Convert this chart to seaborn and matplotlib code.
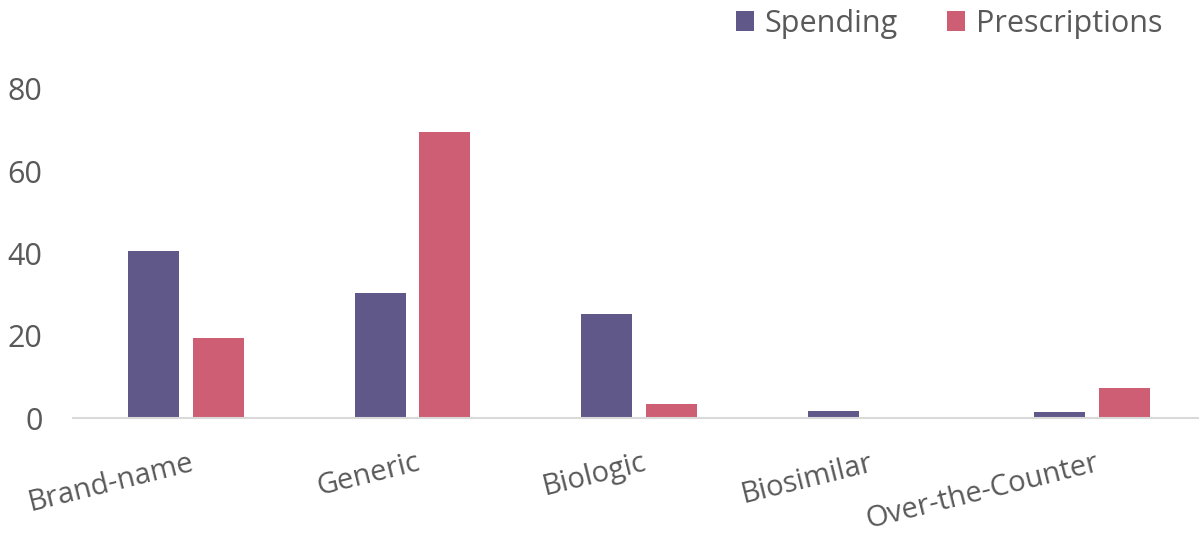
import matplotlib
matplotlib.use("Agg")
import matplotlib.pyplot as plt
import seaborn as sns
import pandas as pd
from matplotlib.patches import Patch

categories = ["Brand-name", "Generic", "Biologic", "Biosimilar", "Over-the-Counter"]
spending = [40.6, 30.5, 25.4, 1.8, 1.5]
prescriptions = [19.5, 69.6, 3.3, 0.0, 7.3]
series = ["Spending", "Prescriptions"]
colors = ["#5F5888", "#CE5E74"]
yticks = [0, 20, 40, 60, 80]

df = pd.DataFrame({
    "category": categories * 2,
    "value": spending + prescriptions,
    "series": [series[0]] * len(categories) + [series[1]] * len(categories),
})

sns.set_theme(style="white")
plt.rcParams["font.family"] = ["Open Sans", "DejaVu Sans"]

fig = plt.figure(figsize=(11.99, 5.33), dpi=100)
ax = fig.add_axes([73 / 1199, 1 - 418 / 533, (1205 - 73) / 1199, (418 - 89) / 533])

sns.barplot(data=df, x="category", y="value", hue="series", hue_order=series,
            palette=colors, saturation=1, width=0.57, gap=0.21, linewidth=0, ax=ax,
            legend=False, order=categories)

ax.set_ylim(0, 80)
ax.set_xlim(-0.5, len(categories) - 0.5)
ax.set_yticks(yticks)
ax.set_yticklabels([str(t) for t in yticks])
ax.set_xlabel("")
ax.set_ylabel("")
for s in ["top", "right", "left"]:
    ax.spines[s].set_visible(False)
ax.spines["bottom"].set_color("#D9D9D9")
ax.spines["bottom"].set_linewidth(1.5)
ax.tick_params(axis="y", length=0, pad=22, labelsize=22, labelcolor="#595959")
ax.tick_params(axis="x", length=0, pad=22, labelsize=21, labelcolor="#595959")
for lbl in ax.get_xticklabels():
    lbl.set_rotation(14)
    lbl.set_ha("right")
    lbl.set_va("top")
    lbl.set_rotation_mode("anchor")
    lbl.set_transform(lbl.get_transform() + matplotlib.transforms.ScaledTranslation(0.03, 0, fig.dpi_scale_trans))

handles = [Patch(facecolor=c, edgecolor="none", label=s) for c, s in zip(colors, series)]
fig.legend(handles=handles, loc="upper right", bbox_to_anchor=(1190 / 1199, 1.035), ncol=2,
           frameon=False, fontsize=22, labelcolor="#595959", handlelength=0.6,
           handleheight=0.6, handletextpad=0.35, columnspacing=1.6)

fig.savefig("out.png", dpi=100)
